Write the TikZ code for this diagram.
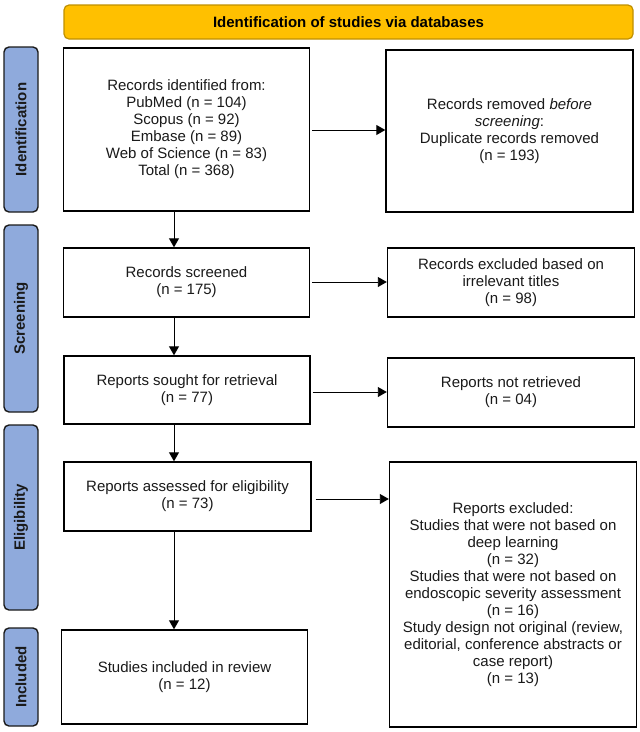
\documentclass[tikz,border=0pt]{standalone}
\usepackage{fontspec}
\setmainfont{Liberation Sans}
\usetikzlibrary{arrows.meta}
\definecolor{hdrfill}{HTML}{FFC000}
\definecolor{hdrdraw}{HTML}{BF9000}
\definecolor{sidefill}{HTML}{8FAADC}
\definecolor{sidedraw}{HTML}{1A1A1A}
\definecolor{txt}{HTML}{1A1A1A}
\begin{document}
\begin{tikzpicture}[x=1pt,y=-1pt,
  box/.style={draw=black, line width=1.4pt, fill=white, align=center, text=txt,
    font=\fontsize{15}{17}\selectfont, inner sep=0pt},
  sidebar/.style={draw=sidedraw, fill=sidefill, rounded corners=5pt, line width=1.4pt,
    rotate=90, inner sep=0pt, minimum height=34pt, text=txt,
    font=\fontsize{15}{17}\selectfont\bfseries},
  hdr/.style={draw=hdrdraw, fill=hdrfill, rounded corners=5pt, line width=1.2pt,
    inner sep=0pt, text=black, font=\fontsize{15}{17}\selectfont\bfseries},
  arr/.style={draw=black, line width=0.9pt, -{Triangle[length=9pt,width=10pt]}}]
\useasboundingbox (0,0) rectangle (640,732);
% header
\node[hdr, minimum width=569pt, minimum height=34pt] (hd) at (348.5,22) {Identification of studies via databases};
% side bars
\node[sidebar, minimum width=165pt] (s1) at (21,129.5) {Identification};
\node[sidebar, minimum width=187pt] (s2) at (21,318.5) {Screening};
\node[sidebar, minimum width=185pt] (s3) at (21,517.5) {Eligibility};
\node[sidebar, minimum width=98pt] (s4) at (21,677) {Included};
% left column
\node[box, minimum width=246pt, minimum height=163pt] (b1) at (186.5,129.5)
  {Records identified from:\\PubMed (n = 104)\\Scopus (n = 92)\\Embase (n = 89)\\Web of Science (n = 83)\\Total (n = 368)};
\node[box, minimum width=246pt, minimum height=69pt] (b2) at (186.5,282.5)
  {Records screened\\(n = 175)};
\node[box, minimum width=246pt, minimum height=68pt] (b3) at (187,390)
  {Reports sought for retrieval\\(n = 77)};
\node[box, minimum width=247pt, minimum height=69pt] (b4) at (187.5,496.5)
  {Reports assessed for eligibility\\(n = 73)};
\node[box, minimum width=246pt, minimum height=94pt] (b5) at (184.5,677)
  {Studies included in review\\(n = 12)};
% right column
\node[box, minimum width=247pt, minimum height=162pt] (r1) at (509.5,131)
  {Records removed \textit{before}\\\textit{screening}:\\Duplicate records removed\\(n = 193)};
\node[box, minimum width=247pt, minimum height=69pt] (r2) at (511,282.5)
  {Records excluded based on\\irrelevant titles\\(n = 98)};
\node[box, minimum width=247pt, minimum height=69pt] (r3) at (511,392.5)
  {Reports not retrieved\\(n = 04)};
\node[box, minimum width=247pt, minimum height=265pt] (r4) at (513,594.5)
  {Reports excluded:\\Studies that were not based on\\deep learning\\(n = 32)\\Studies that were not based on\\endoscopic severity assessment\\(n = 16)\\Study design not original (review,\\editorial, conference abstracts or\\case report)\\(n = 13)};
% connectors
\coordinate (vx) at (174,0);
\draw[arr] (b1.south -| vx) -- (b2.north -| vx);
\draw[arr] (b2.south -| vx) -- (b3.north -| vx);
\draw[arr] (b3.south -| vx) -- (b4.north -| vx);
\draw[arr] (b4.south -| vx) -- (b5.north -| vx);
\coordinate (h1) at (0,130);
\coordinate (h2) at (0,282);
\coordinate (h3) at (0,392);
\coordinate (h4) at (0,499);
\draw[arr] ([xshift=2pt]b1.east |- h1) -- (r1.west |- h1);
\draw[arr] ([xshift=2pt]b2.east |- h2) -- (r2.west |- h2);
\draw[arr] ([xshift=2pt]b3.east |- h3) -- (r3.west |- h3);
\draw[arr] ([xshift=4pt]b4.east |- h4) -- (r4.west |- h4);
\end{tikzpicture}
\end{document}
